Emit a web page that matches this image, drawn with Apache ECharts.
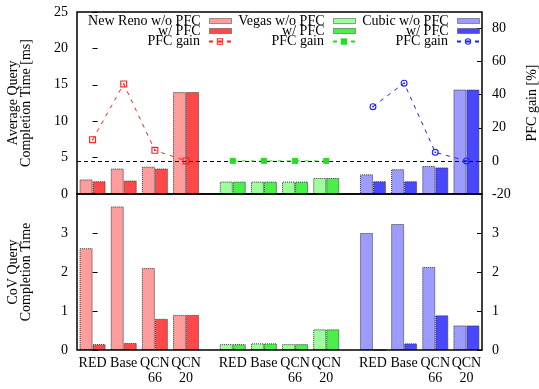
<!DOCTYPE html>
<html>
<head>
<meta charset="utf-8">
<script src="https://cdn.jsdelivr.net/npm/echarts@6/dist/echarts.min.js"></script>
<style>
  html, body { margin: 0; padding: 0; background: #ffffff; }
  #chart { width: 539px; height: 389px; }
</style>
</head>
<body>
<div id="chart"></div>
<script>
// AQM schemes shown for each TCP variant
const categories = ['RED', 'Base', 'QCN\n66', 'QCN\n20'];
const variants = ['New Reno', 'Vegas', 'Cubic'];

// Average query completion time [ms]
const renoAvgWo  = [2.0, 3.5, 3.75, 14.0];
const renoAvgW   = [1.75, 1.85, 3.5, 14.0];
const vegasAvgWo = [1.7, 1.7, 1.7, 2.2];
const vegasAvgW  = [1.7, 1.7, 1.7, 2.2];
const cubicAvgWo = [2.7, 3.4, 3.85, 14.35];
const cubicAvgW  = [1.75, 1.75, 3.65, 14.35];

// PFC gain [%]
const renoGain  = [12.8, 46.5, 6.4, 0];
const vegasGain = [0, 0, 0, 0];
const cubicGain = [32.8, 47.0, 5.2, 0];

// CoV of query completion time
const renoCovWo  = [2.61, 3.68, 2.10, 0.90];
const renoCovW   = [0.15, 0.18, 0.80, 0.90];
const vegasCovWo = [0.15, 0.17, 0.15, 0.53];
const vegasCovW  = [0.15, 0.17, 0.15, 0.53];
const cubicCovWo = [3.00, 3.23, 2.13, 0.63];
const cubicCovW  = [0.00, 0.17, 0.89, 0.63];

// Axis tick values
const avgTicks  = [0, 5, 10, 15, 20, 25];
const gainTicks = [-20, 0, 20, 40, 60, 80];
const covTicks  = [0, 1, 2, 3];

// ---- layout / styling ----
const FONT = 'Liberation Serif';
const GROUP_STRIDE = 4.5;            // x distance between first slots of two groups
const slot = (g, i) => g * GROUP_STRIDE + i;

const colors = [
  { light: '#ff9c9c', dark: '#ff4848', line: '#ff2020' },
  { light: '#9cff9c', dark: '#48f048', line: '#20e020' },
  { light: '#9c9cff', dark: '#4848ff', line: '#2020ff' }
];
const gainSymbols = [
  'path://M0,0H10V10H0Z M1.6,1.6V8.4H8.4V1.6Z M4,4H6V6H4Z',
  'rect',
  'path://M5,0A5,5 0 1,1 5,10A5,5 0 1,1 5,0Z M5,1.6A3.4,3.4 0 1,0 5,8.4A3.4,3.4 0 1,0 5,1.6Z M5,3.8A1.2,1.2 0 1,1 5,6.2A1.2,1.2 0 1,1 5,3.8Z'
];

const avgWo = [renoAvgWo, vegasAvgWo, cubicAvgWo];
const avgW  = [renoAvgW, vegasAvgW, cubicAvgW];
const gains = [renoGain, vegasGain, cubicGain];
const covWo = [renoCovWo, vegasCovWo, cubicCovWo];
const covW  = [renoCovW, vegasCovW, cubicCovW];

const woName   = g => variants[g] + ' w/o PFC';
const wName    = g => variants[g] + ' w/ PFC';
const gainName = g => variants[g] + ' PFC gain';

const toPoints = (g, arr) => arr.map((v, i) => [slot(g, i), v]);

function barSeries(name, g, arr, xi, yi, stack, color) {
  return {
    name, type: 'bar', xAxisIndex: xi, yAxisIndex: yi, stack,
    barWidth: 13, barGap: '0%',
    data: toPoints(g, arr),
    itemStyle: { color, borderColor: '#303030', borderWidth: 1, borderType: 'dotted' },
    emphasis: { disabled: true },
    z: 2
  };
}

const series = [];
for (let g = 0; g < 3; g++) {
  series.push(barSeries(woName(g), g, avgWo[g], 0, 0, 'avgWo', colors[g].light));
  series.push(barSeries(wName(g), g, avgW[g], 0, 0, 'avgW', colors[g].dark));
}
for (let g = 0; g < 3; g++) {
  const s = {
    name: gainName(g), type: 'line', xAxisIndex: 0, yAxisIndex: 1,
    data: toPoints(g, gains[g]),
    symbol: gainSymbols[g], symbolSize: g === 1 ? 6 : 7,
    showAllSymbol: true,
    lineStyle: { color: colors[g].line, width: 1, type: [4, 5] },
    itemStyle: { color: colors[g].line, borderWidth: 0 },
    emphasis: { disabled: true },
    z: 5
  };
  if (g === 1) {
    // zero-gain reference across the whole upper panel
    s.markLine = {
      silent: true, symbol: 'none', label: { show: false },
      lineStyle: { color: '#000', width: 1, type: [4, 3] },
      data: [{ yAxis: 0 }]
    };
  }
  series.push(s);
}
for (let g = 0; g < 3; g++) {
  series.push(barSeries(woName(g), g, covWo[g], 1, 2, 'covWo', colors[g].light));
  series.push(barSeries(wName(g), g, covW[g], 1, 2, 'covW', colors[g].dark));
}

// Legend: three columns, one component per entry so the rows can sit tightly
const legendCols = [307, 183, 59];           // distance of swatch right edge from chart right
const legendRows = [14, 24, 34.5];
const legends = [];
for (let g = 0; g < 3; g++) {
  const entries = [
    { name: woName(g), text: (g === 0 ? 'New Reno' : variants[g]) + ' w/o PFC', line: false },
    { name: wName(g), text: 'w/ PFC', line: false },
    { name: gainName(g), text: 'PFC gain', line: true }
  ];
  entries.forEach((e, r) => {
    const lg = {
      data: [e.name], right: legendCols[g], top: legendRows[r],
      orient: 'vertical', align: 'right', padding: 0,
      itemWidth: 22, itemHeight: e.line ? 8 : 5,
      selectedMode: false,
      formatter: () => e.text,
      textStyle: { fontFamily: FONT, fontSize: 14, color: '#000', lineHeight: 14, padding: [0, 4, 0, 0] }
    };
    if (!e.line) {
      lg.icon = 'rect';
      lg.itemStyle = { borderColor: '#404040', borderWidth: 1, borderType: 'dotted' };
    }
    legends.push(lg);
  });
}

const labelStyle = { fontFamily: FONT, fontSize: 14, color: '#000' };
const tickStyle = { show: true, inside: true, length: 5, lineStyle: { color: '#000', width: 1 } };

function yAxis(gridIndex, position, min, max, interval, ticks, name, nameGap, showMax) {
  return {
    type: 'value', gridIndex, position, min, max, interval,
    name, nameLocation: 'middle', nameRotate: 90, nameGap,
    nameTextStyle: { fontFamily: FONT, fontSize: 14, color: '#000', lineHeight: 13 },
    axisLine: { show: false },
    axisTick: tickStyle,
    splitLine: { show: false },
    axisLabel: Object.assign({}, labelStyle, {
      margin: position === 'left' ? 9 : 10,
      showMaxLabel: showMax,
      formatter: v => (ticks.indexOf(v) >= 0 ? String(v) : '')
    })
  };
}

function xLabel(v) {
  for (let g = 0; g < 3; g++) {
    for (let i = 0; i < categories.length; i++) {
      if (Math.abs(slot(g, i) - v) < 1e-6) return categories[i];
    }
  }
  return '';
}

const gridBase = {
  left: 77, right: 57, show: true, borderColor: '#000', borderWidth: 1.5,
  backgroundColor: 'transparent', containLabel: false, outerBoundsMode: 'none', z: 10
};

const option = {
  animation: false,
  backgroundColor: '#ffffff',
  grid: [
    Object.assign({}, gridBase, { top: 12, height: 182 }),
    Object.assign({}, gridBase, { top: 194, height: 156 })
  ],
  legend: legends,
  xAxis: [
    {
      type: 'value', gridIndex: 0, min: -0.5, max: 12.5, interval: 0.5,
      axisLine: { show: false }, axisTick: { show: false },
      axisLabel: { show: false }, splitLine: { show: false }
    },
    {
      type: 'value', gridIndex: 1, min: -0.5, max: 12.5, interval: 0.5,
      axisLine: { show: false }, axisTick: { show: false }, splitLine: { show: false },
      axisLabel: Object.assign({}, labelStyle, { margin: 6, lineHeight: 15, formatter: xLabel })
    }
  ],
  yAxis: [
    yAxis(0, 'left', 0, 25, 5, avgTicks, 'Average Query\nCompletion Time [ms]', 44, true),
    yAxis(0, 'right', -20, 90, 20, gainTicks, 'PFC gain [%]', 44, false),
    yAxis(1, 'left', 0, 4, 1, covTicks, 'CoV Query\nCompletion Time', 44, false),
    yAxis(1, 'right', 0, 4, 1, covTicks, '', 30, false)
  ],
  series
};

const chart = echarts.init(document.getElementById('chart'), null, { renderer: 'canvas' });
chart.setOption(option);
</script>
</body>
</html>
